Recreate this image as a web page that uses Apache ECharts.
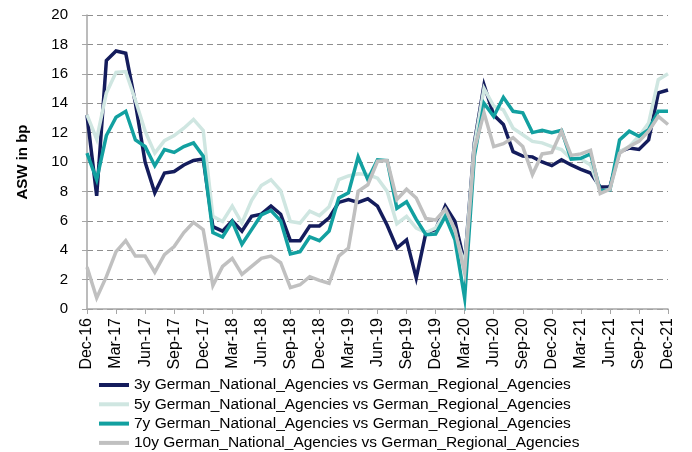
<!DOCTYPE html>
<html>
<head>
<meta charset="utf-8">
<script src="https://cdn.jsdelivr.net/npm/echarts@6/dist/echarts.min.js"></script>
<style>
  html, body { margin: 0; padding: 0; background: #fff; }
  #chart { width: 692px; height: 452px; }
</style>
</head>
<body>
<div id="chart"></div>
<script>
const monthNames = ["Jan", "Feb", "Mar", "Apr", "May", "Jun", "Jul", "Aug", "Sep", "Oct", "Nov", "Dec"];
const firstYear = 16;

// month labels Dec-16 .. Dec-21
const categories = ["Dec-16"];
for (let y = firstYear + 1; y <= 21; y++) {
  monthNames.forEach(function (m) { categories.push(m + "-" + y); });
}

const seriesNames = [
  "3y German_National_Agencies vs German_Regional_Agencies",
  "5y German_National_Agencies vs German_Regional_Agencies",
  "7y German_National_Agencies vs German_Regional_Agencies",
  "10y German_National_Agencies vs German_Regional_Agencies",
];

// ASW spreads in bp
const asw3y = [
  13.2, 7.7, 16.9, 17.55, 17.4, 14.0, 10.0, 7.9, 9.25, 9.35, 9.8, 10.1, 10.2,
  5.6, 5.3, 6.0, 5.3, 6.3, 6.45, 7.0, 6.45, 4.65, 4.65, 5.65, 5.65,
  6.2, 7.25, 7.45, 7.25, 7.5, 7.0, 5.7, 4.15, 4.7, 2.1, 5.2, 5.4,
  7.0, 5.95, 3.1, 11.3, 15.25, 13.2, 12.55, 10.7, 10.4, 10.35, 10.0, 9.75,
  10.15, 9.8, 9.5, 9.25, 8.3, 8.3, 10.7, 10.95, 10.85, 11.5, 14.7, 14.9,
];
const asw5y = [
  13.2, 11.55, 14.7, 16.1, 16.15, 14.2, 12.1, 10.6, 11.45, 11.8, 12.3, 12.9, 12.15,
  6.3, 5.95, 7.0, 5.85, 7.4, 8.4, 8.8, 8.05, 5.95, 5.85, 6.65, 6.35,
  6.95, 8.8, 9.05, 9.2, 9.15, 8.9, 8.0, 5.8, 6.3, 5.5, 5.2, 5.5,
  6.55, 5.2, 3.0, 11.1, 15.0, 13.8, 13.55, 12.3, 11.85, 11.4, 11.3, 11.05,
  10.85, 10.2, 10.2, 9.8, 8.0, 8.15, 10.7, 11.05, 11.75, 12.65, 15.6, 16.0,
];
const asw7y = [
  10.6, 8.8, 11.8, 13.05, 13.45, 11.5, 11.05, 9.75, 10.85, 10.65, 11.05, 11.3, 10.4,
  5.2, 4.9, 5.95, 4.4, 5.4, 6.4, 6.7, 6.0, 3.75, 3.9, 4.9, 4.65,
  5.3, 7.55, 7.9, 10.35, 8.8, 10.15, 10.1, 6.85, 7.3, 6.1, 5.05, 5.1,
  6.3, 4.7, 0.75, 10.4, 14.0, 13.1, 14.4, 13.45, 13.35, 12.0, 12.15, 12.0,
  12.15, 10.2, 10.25, 10.55, 8.05, 8.1, 11.5, 12.1, 11.75, 12.2, 13.45, 13.45,
];
const asw10y = [
  2.85, 0.75, 2.2, 3.9, 4.65, 3.6, 3.6, 2.5, 3.7, 4.25, 5.2, 5.9, 5.4,
  1.6, 2.9, 3.45, 2.35, 2.9, 3.45, 3.6, 3.15, 1.45, 1.65, 2.2, 1.95,
  1.75, 3.6, 4.15, 8.0, 8.45, 10.05, 10.1, 7.45, 8.15, 7.55, 6.15, 6.05,
  6.8, 5.4, 2.45, 10.85, 13.35, 11.05, 11.25, 11.65, 11.05, 9.15, 10.55, 10.65,
  12.1, 10.45, 10.55, 10.8, 7.85, 8.15, 10.6, 11.05, 11.4, 12.1, 13.1, 12.55,
];

const colors = ["#141c5c", "#cfe6e1", "#12a0a0", "#c0c0c0"];
const font = "'Liberation Sans', Arial, sans-serif";

const chart = echarts.init(document.getElementById("chart"), null, { renderer: "canvas" });

function lineSeries(name, data, color) {
  return {
    name: name,
    type: "line",
    data: data,
    showSymbol: false,
    symbol: "none",
    lineStyle: { color: color, width: 3.5, join: "miter" },
    itemStyle: { color: color },
    animation: false,
  };
}

const option = {
  animation: false,
  grid: { left: 87, right: 24, top: 15, bottom: 143 },
  xAxis: {
    type: "category",
    data: categories,
    boundaryGap: false,
    axisLine: { lineStyle: { color: "#a6a6a6", width: 1.5 } },
    axisTick: { show: true, interval: 2, length: 5, lineStyle: { color: "#a6a6a6" } },
    axisLabel: {
      interval: 2,
      rotate: 90,
      margin: 9,
      color: "#000",
      fontSize: 16,
      fontFamily: font,
    },
    splitLine: { show: false },
  },
  yAxis: {
    type: "value",
    min: 0,
    max: 20,
    interval: 2,
    name: "ASW in bp",
    nameLocation: "middle",
    nameGap: 57,
    nameTextStyle: { fontSize: 15, fontWeight: "bold", color: "#000", fontFamily: font },
    axisLine: { show: true, lineStyle: { color: "#a6a6a6", width: 1.5 } },
    axisTick: { show: true, length: 5, lineStyle: { color: "#a6a6a6" } },
    axisLabel: { margin: 19, color: "#000", fontSize: 15, fontFamily: font },
    splitLine: { lineStyle: { color: "#8f8f8f", type: [6, 4], width: 1 } },
  },
  legend: {
    orient: "vertical",
    left: 99,
    top: 377,
    height: 120,
    padding: 0,
    itemGap: 3.3,
    itemWidth: 30,
    itemHeight: 4,
    icon: "rect",
    data: seriesNames,
    textStyle: { fontSize: 15.5, color: "#000", fontFamily: font, lineHeight: 15 },
  },
  series: [
    lineSeries(seriesNames[0], asw3y, colors[0]),
    lineSeries(seriesNames[1], asw5y, colors[1]),
    lineSeries(seriesNames[2], asw7y, colors[2]),
    lineSeries(seriesNames[3], asw10y, colors[3]),
  ],
};

chart.setOption(option);
</script>
</body>
</html>
